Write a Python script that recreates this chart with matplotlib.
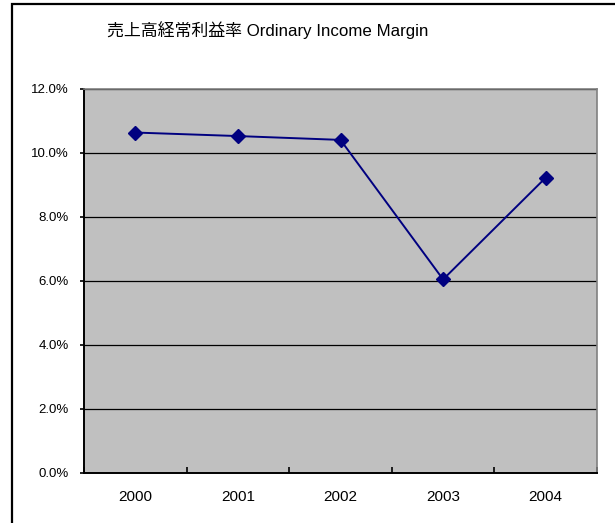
import matplotlib
matplotlib.use("Agg")
import matplotlib.pyplot as plt
from matplotlib.patches import Rectangle
from matplotlib.ticker import FixedLocator, PercentFormatter
from matplotlib import font_manager

years = ["2000", "2001", "2002", "2003", "2004"]
margin = [10.63, 10.52, 10.40, 6.04, 9.22]
y_ticks = [0, 2, 4, 6, 8, 10, 12]
title = "売上高経常利益率 Ordinary Income Margin"

plt.rcParams['font.family'] = ['Liberation Sans', 'Noto Sans CJK JP', 'DejaVu Sans']

names = {f.name for f in font_manager.fontManager.ttflist}
narrow = 'Liberation Sans Narrow' if 'Liberation Sans Narrow' in names else None

W, H = 615, 523
fig = plt.figure(figsize=(W / 100, H / 100), dpi=100)

# figure frame (right/bottom run off the image)
fig.patches.append(Rectangle((12 / W, -0.05), 1.2, 1 - 4 / H + 0.05,
                             transform=fig.transFigure, fill=False,
                             edgecolor='black', linewidth=1.6, zorder=0))

ax = fig.add_axes([84 / W, 1 - 472.7 / H, (597 - 84) / W, (472.7 - 88.7) / H])
ax.set_facecolor('#C0C0C0')

x = list(range(len(years)))
ax.plot(x, margin, color='#000080', linewidth=1.4, marker='D',
        markersize=7, markerfacecolor='#000080', markeredgecolor='#000080',
        zorder=5, clip_on=False)

ax.set_xlim(-0.5, len(years) - 0.5)
ax.set_ylim(0, 12)
ax.set_yticks(y_ticks)
ax.yaxis.set_major_formatter(PercentFormatter(decimals=1))
ax.yaxis.grid(True, color='black', linewidth=0.9)
ax.set_axisbelow(True)

ax.set_xticks(x)
ax.set_xticklabels(years)
ax.xaxis.set_minor_locator(FixedLocator([i - 0.5 for i in range(len(years) + 1)]))
ax.tick_params(axis='x', which='major', length=0, pad=12.5, labelsize=11)
ax.tick_params(axis='x', which='minor', direction='in', length=4, width=1.2, color='black')
ax.tick_params(axis='y', which='major', direction='out', length=3, width=1.2,
               pad=8)
for lab in ax.get_yticklabels():
    if narrow:
        lab.set_fontfamily([narrow, 'Liberation Sans'])
        lab.set_fontsize(11)
    else:
        lab.set_fontsize(9.5)

for side in ['left', 'bottom']:
    ax.spines[side].set_color('black')
    ax.spines[side].set_linewidth(1.4)
for side in ['top', 'right']:
    ax.spines[side].set_color('#808080')
    ax.spines[side].set_linewidth(1.2)

fig.text(267.5 / W, 1 - 30 / H, title, ha='center', va='center', fontsize=12.2)

fig.savefig("out.png", dpi=100)
